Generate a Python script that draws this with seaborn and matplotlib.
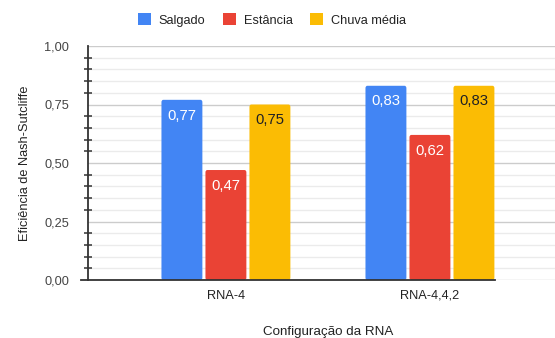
import matplotlib
matplotlib.use("Agg")
import matplotlib.pyplot as plt
from matplotlib.patches import FancyBboxPatch
from matplotlib.ticker import MultipleLocator, FuncFormatter
import pandas as pd
import seaborn as sns

# Nash-Sutcliffe efficiency per network configuration and station
configs = ["RNA-4", "RNA-4,4,2"]
salgado = [0.77, 0.83]
estancia = [0.47, 0.62]
chuva_media = [0.75, 0.83]
series_names = ["Salgado", "Estância", "Chuva média"]
colors = ["#4285F4", "#EA4335", "#FBBC04"]
label_colors = ["white", "white", "#202124"]

df = pd.DataFrame({
    "config": configs * 3,
    "serie": [s for s in series_names for _ in configs],
    "nse": salgado + estancia + chuva_media,
})

sns.set_theme(style="white")
plt.rcParams["font.family"] = ["Liberation Sans", "DejaVu Sans"]

fig = plt.figure(figsize=(5.55, 3.38), dpi=100)
ax = fig.add_axes([88 / 555, 58 / 338, 467 / 555, 234 / 338])

sns.barplot(data=df, x="config", y="nse", hue="serie", hue_order=series_names,
            palette=colors, width=0.647, gap=0.07, saturation=1, ax=ax,
            legend=True, linewidth=0, errorbar=None)

ax.set_xlim(-0.676, 1.613)
ax.set_ylim(0, 1)

# rounded bar tops and value labels inside the top of each bar
for cont, lc in zip(ax.containers, label_colors):
    for bar in cont:
        x0, w, h = bar.get_x(), bar.get_width(), bar.get_height()
        bar.set_visible(False)
        ax.add_patch(FancyBboxPatch((x0, 0), w, h,
                                    boxstyle="round,pad=0,rounding_size=0.009",
                                    mutation_aspect=234 / 204,
                                    facecolor=bar.get_facecolor(), linewidth=0,
                                    zorder=bar.get_zorder()))
        ax.annotate(f"{h:.2f}".replace(".", ","),
                    (x0 + w / 2, h),
                    xytext=(0, -11.3), textcoords="offset points",
                    ha="center", va="center", fontsize=10.7, color=lc, zorder=5)

# grid and y axis styling
ax.yaxis.set_major_locator(MultipleLocator(0.25))
ax.yaxis.set_minor_locator(MultipleLocator(0.05))
ax.yaxis.set_major_formatter(FuncFormatter(lambda v, _: f"{v:.2f}".replace(".", ",")))
ax.grid(axis="y", which="major", color="#cccccc", linewidth=1)
ax.grid(axis="y", which="minor", color="#ebebeb", linewidth=1)
ax.set_axisbelow(True)
ax.tick_params(axis="y", which="major", direction="inout", length=10, width=1.1,
               color="#333333", labelsize=9.2, labelcolor="#444444", pad=8.5)
ax.tick_params(axis="y", which="minor", direction="inout", length=5.8, width=1.1,
               color="#333333", left=True)
ax.tick_params(axis="x", length=0, labelsize=9.2, labelcolor="#222222", pad=7)

for side in ("top", "right"):
    ax.spines[side].set_visible(False)
ax.spines["left"].set_color("#333333")
ax.spines["left"].set_linewidth(1.3)
ax.spines["bottom"].set_color("#333333")
ax.spines["bottom"].set_linewidth(1.3)
ax.spines["bottom"].set_zorder(6)
ax.spines["bottom"].set_bounds(-0.71, 1.32)

ax.set_xlabel("Configuração da RNA", fontsize=9.6, color="#222222")
ax.set_ylabel("Eficiência de Nash-Sutcliffe", fontsize=9.2, color="#222222")
ax.xaxis.set_label_coords(0.514, -0.198)
ax.yaxis.set_label_coords(-0.122, 0.5)

handles, labels = ax.get_legend_handles_labels()
ax.get_legend().remove()
fig.legend(handles, labels, loc="center", bbox_to_anchor=(272 / 555, 1 - 20 / 338),
           ncol=3, frameon=False, fontsize=9.2, handlelength=1.0, handleheight=1.0,
           handletextpad=0.64, columnspacing=1.36, labelcolor="#222222")

fig.savefig("out.png", dpi=100)
